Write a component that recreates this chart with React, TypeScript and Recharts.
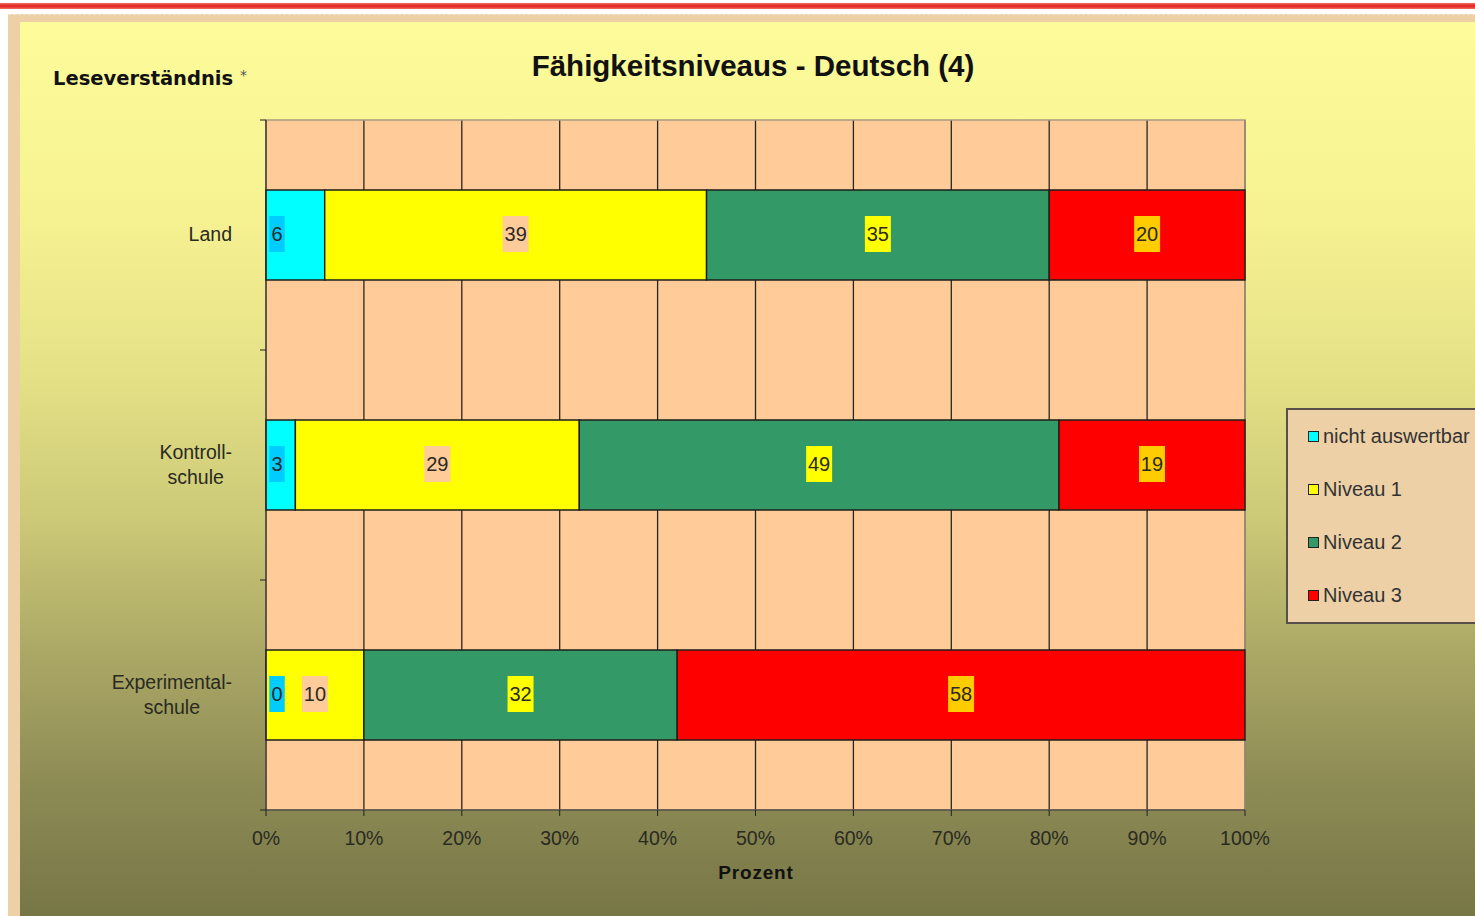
import React from 'react';
import { BarChart, Bar, XAxis, YAxis, CartesianGrid, LabelList, Legend, ReferenceArea } from 'recharts';

const CATEGORIES = ['Land', 'Kontroll-\nschule', 'Experimental-\nschule'];
const NICHT_AUSWERTBAR = [6, 3, 0];
const NIVEAU_1 = [39, 29, 10];
const NIVEAU_2 = [35, 49, 32];
const NIVEAU_3 = [20, 19, 58];
const X_TICKS = [0, 10, 20, 30, 40, 50, 60, 70, 80, 90, 100];

const SERIES = [
  { key: 'nicht', name: 'nicht auswertbar', color: '#00ffff', labelBg: '#00ccff' },
  { key: 'n1', name: 'Niveau 1', color: '#ffff00', labelBg: '#ffcc99' },
  { key: 'n2', name: 'Niveau 2', color: '#339966', labelBg: '#ffff00' },
  { key: 'n3', name: 'Niveau 3', color: '#ff0000', labelBg: '#ffcc00' },
];

const data = CATEGORIES.map((c, i) => ({
  cat: c,
  nicht: NICHT_AUSWERTBAR[i],
  n1: NIVEAU_1[i],
  n2: NIVEAU_2[i],
  n3: NIVEAU_3[i],
}));

const FONT = "'Liberation Sans', Arial, sans-serif";
const TEXT = '#2a2a22';

function measure(text: string, font: string): number {
  try {
    const c = document.createElement('canvas');
    const ctx = c.getContext('2d');
    if (ctx) {
      ctx.font = font;
      return ctx.measureText(text).width;
    }
  } catch (e) {}
  return text.length * 9;
}

const YTick = (props: any) => {
  const { x, y, payload, height, visibleTicksCount, index } = props;
  const n = visibleTicksCount || CATEGORIES.length;
  const band = (height || 690) / n;
  const lines = String(payload.value).split('\n');
  const font = `19.5px ${FONT}`;
  const widths = lines.map((l) => measure(l, font));
  const maxW = Math.max(...widths);
  const right = x - 34;
  const cx = right - maxW / 2;
  const lh = 25;
  const y0 = y - ((lines.length - 1) * lh) / 2 - 1;
  return (
    <g>
      <line x1={x - 6} x2={x} y1={y - band / 2} y2={y - band / 2} stroke="#222" />
      {index === n - 1 && <line x1={x - 6} x2={x} y1={y + band / 2} y2={y + band / 2} stroke="#222" />}
      <text x={cx} y={y0} textAnchor="middle" dominantBaseline="central" fontFamily={FONT} fontSize={19.5} fill={TEXT}>
        {lines.map((l, i) => (
          <tspan key={i} x={cx} y={y0 + i * lh}>{l}</tspan>
        ))}
      </text>
    </g>
  );
};

const LabelBox = ({ cx, cy, txt, bg }: { cx: number; cy: number; txt: string; bg: string }) => {
  const w = txt.length * 10.5 + 5;
  const h = 36;
  return (
    <g>
      <rect x={cx - w / 2} y={cy - h / 2} width={w} height={h} fill={bg} />
      <text x={cx} y={cy} textAnchor="middle" dominantBaseline="central" fontFamily={FONT} fontSize={20} fill={TEXT}>
        {txt}
      </text>
    </g>
  );
};

const makeLabel = (seriesIndex: number) => (props: any) => {
  const { x, y, width, height, value, index } = props;
  const cy = y + height / 2 - 1;
  const own = (
    <LabelBox cx={x + width / 2} cy={cy} txt={String(value)} bg={SERIES[seriesIndex].labelBg} />
  );
  if (seriesIndex !== 1) return own;
  // the "nicht auswertbar" label is drawn here so that it stays on top of the Niveau 1 bar
  const nicht = data[index] ? data[index].nicht : 0;
  const pxPerUnit = value ? width / Number(value) : 0;
  const start = x - nicht * pxPerUnit;
  return (
    <g>
      {own}
      <LabelBox cx={start + 11} cy={cy} txt={String(nicht)} bg={SERIES[0].labelBg} />
    </g>
  );
};

const LegendContent = (props: any) => {
  const payload = [...(props.payload || [])].sort(
    (a: any, b: any) =>
      SERIES.findIndex((s) => s.name === a.value) - SERIES.findIndex((s) => s.name === b.value)
  );
  return (
    <div
      style={{
        width: 200,
        height: 216,
        boxSizing: 'border-box',
        background: '#edd0a6',
        border: '2px solid #55504a',
        position: 'relative',
      }}
    >
      {payload.map((p: any, i: number) => (
        <div
          key={i}
          style={{
            position: 'absolute',
            left: 20,
            top: 15 + i * 53,
            height: 22,
            display: 'flex',
            alignItems: 'center',
            fontFamily: FONT,
            fontSize: 20,
            color: '#333',
            whiteSpace: 'nowrap',
          }}
        >
          <span
            style={{
              display: 'inline-block',
              width: 9,
              height: 9,
              background: p.color,
              border: '1.5px solid #222',
              marginRight: 4,
            }}
          />
          {p.value}
        </div>
      ))}
    </div>
  );
};

export default function App() {
  return (
    <div style={{ position: 'fixed', left: 0, top: 0, width: 1475, height: 916, background: '#ffffff', overflow: 'hidden' }}>
      <div style={{ position: 'absolute', left: 0, top: 3, width: 1475, height: 6, background: 'linear-gradient(#f07060, #e02020 50%, #f07060)' }} />
      <div
        style={{
          position: 'absolute',
          left: 8,
          top: 14,
          right: 0,
          bottom: 0,
          background: '#edd0a6',
          borderTop: '1px dashed #f4e4cc',
        }}
      />
      <div
        style={{
          position: 'absolute',
          left: 20,
          top: 22,
          right: 0,
          bottom: 0,
          background: 'linear-gradient(#fdfb9a 0%, #f6f292 22%, #e4e086 40%, #cdca78 55%, #a8a564 72%, #8c8a54 86%, #777646 100%)',
        }}
      />
      <div
        style={{
          position: 'absolute',
          left: 753,
          top: 66,
          transform: 'translate(-50%, -50%)',
          fontFamily: FONT,
          fontWeight: 'bold',
          fontSize: 29.5,
          color: '#111',
          whiteSpace: 'nowrap',
        }}
      >
        Fähigkeitsniveaus - Deutsch (4)
      </div>
      <div
        style={{
          position: 'absolute',
          left: 53,
          top: 78,
          transform: 'translateY(-50%)',
          fontFamily: "'DejaVu Sans', Verdana, sans-serif",
          fontWeight: 'bold',
          fontSize: 19.5,
          color: '#111',
          whiteSpace: 'nowrap',
        }}
      >
        Leseverständnis <span style={{ fontSize: 14, fontWeight: 'normal', verticalAlign: 'top', color: '#555' }}>*</span>
      </div>
      <div
        style={{
          position: 'absolute',
          left: 756,
          top: 873,
          transform: 'translate(-50%, -50%)',
          fontFamily: FONT,
          fontWeight: 'bold',
          fontSize: 19,
          letterSpacing: 0.8,
          color: '#111',
          whiteSpace: 'nowrap',
        }}
      >
        Prozent
      </div>
      <div style={{ position: 'absolute', left: 0, top: 0 }}>
        <BarChart
          width={1475}
          height={916}
          data={data}
          layout="vertical"
          margin={{ top: 120, right: 230, bottom: 46, left: 0 }}
          barSize={90}
        >
          <CartesianGrid horizontal={false} vertical stroke="#262620" strokeWidth={1.3} fill="#ffcc99" fillOpacity={1} />
          <ReferenceArea x1={0} x2={100} fill="none" stroke="#a89a80" strokeWidth={1.5} ifOverflow="visible" />
          <XAxis
            type="number"
            domain={[0, 100]}
            ticks={X_TICKS}
            tickFormatter={(v: number) => `${v}%`}
            height={60}
            axisLine={{ stroke: '#222' }}
            tickLine={{ stroke: '#222' }}
            tickSize={6}
            tickMargin={15}
            tick={{ fill: TEXT, fontSize: 19.5, fontFamily: FONT }}
            interval={0}
          />
          <YAxis
            type="category"
            dataKey="cat"
            width={266}
            axisLine={{ stroke: '#222' }}
            tickLine={false}
            tickSize={0}
            tickMargin={0}
            tick={<YTick />}
            interval={0}
          />
          <Legend
            layout="vertical"
            align="center"
            verticalAlign="middle"
            content={<LegendContent />}
            wrapperStyle={{ position: 'absolute', left: 1286, top: 408, width: 200, height: 216 }}
          />
          {SERIES.map((s, i) => (
            <Bar
              key={s.key}
              dataKey={s.key}
              name={s.name}
              stackId="a"
              fill={s.color}
              stroke="#1e1e1a"
              strokeWidth={1.4}
              isAnimationActive={false}
            >
              {i > 0 && <LabelList dataKey={s.key} content={makeLabel(i)} />}
            </Bar>
          ))}
        </BarChart>
      </div>
    </div>
  );
}
